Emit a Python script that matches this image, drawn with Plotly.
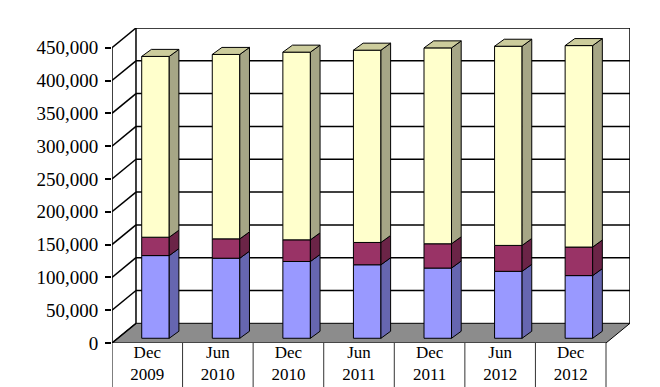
import plotly.graph_objects as go

# ---- data ----
categories = ["Dec<br>2009", "Jun<br>2010", "Dec<br>2010", "Jun<br>2011",
              "Dec<br>2011", "Jun<br>2012", "Dec<br>2012"]
series_blue = [126000, 122000, 117000, 112000, 107000, 102000, 95500]
series_maroon = [28000, 29500, 33000, 34000, 37000, 39500, 43500]
series_yellow = [275500, 281000, 286000, 293000, 298500, 303500, 307000]
y_ticks = list(range(0, 450001, 50000))

# ---- 3D styling constants (in axis units) ----
N = len(categories)
DEPTH_X = 0.34        # wall depth, category units
DEPTH_Y = 30000       # wall depth, value units
BAR_SHIFT_X = 0.116   # bar front plane offset
BAR_BASE = 7200
BAR_W = 0.39
BAR_DX = 0.137
BAR_DY = 10700
Y_MAX = 450000

front_cols = ["#9999FF", "#993366", "#FFFFCC"]
side_cols = ["#6666B0", "#6B2447", "#A6A686"]
top_col = "#CCCC9C"

fig = go.Figure()

series = [series_blue, series_maroon, series_yellow]
cum = [BAR_BASE] * N
bases = []
for s in series:
    bases.append(list(cum))
    cum = [c + v for c, v in zip(cum, s)]

xc = [i + 0.5 + BAR_SHIFT_X for i in range(N)]

# front faces
for s, b, col in zip(series, bases, front_cols):
    fig.add_trace(go.Bar(x=xc, y=s, base=b, width=BAR_W,
                         marker=dict(color=col, line=dict(color="black", width=1)),
                         hoverinfo="skip", showlegend=False))

# side faces
for s, b, col in zip(series, bases, side_cols):
    px, py = [], []
    for x, v, b0 in zip(xc, s, b):
        xr = x + BAR_W / 2
        px += [xr, xr + BAR_DX, xr + BAR_DX, xr, xr, None]
        py += [b0, b0 + BAR_DY, b0 + v + BAR_DY, b0 + v, b0, None]
    fig.add_trace(go.Scatter(x=px, y=py, mode="lines", fill="toself", fillcolor=col,
                             line=dict(color="black", width=1), hoverinfo="skip",
                             showlegend=False))

# top faces
px, py = [], []
for x, t in zip(xc, cum):
    xl, xr = x - BAR_W / 2, x + BAR_W / 2
    px += [xl, xr, xr + BAR_DX, xl + BAR_DX, xl, None]
    py += [t, t, t + BAR_DY, t + BAR_DY, t, None]
fig.add_trace(go.Scatter(x=px, y=py, mode="lines", fill="toself", fillcolor=top_col,
                         line=dict(color="black", width=1), hoverinfo="skip",
                         showlegend=False))

shapes = []
# floor
shapes.append(dict(type="path", xref="x", yref="y", layer="below",
                   path=f"M 0 0 L {N} 0 L {N + DEPTH_X} {DEPTH_Y} L {DEPTH_X} {DEPTH_Y} Z",
                   fillcolor="#8C8C8C", line=dict(color="black", width=1)))
# back wall gridlines + left wall diagonals
for v in y_ticks:
    if v > 0:
        shapes.append(dict(type="line", xref="x", yref="y", layer="below",
                           x0=DEPTH_X, x1=N + DEPTH_X, y0=v + DEPTH_Y, y1=v + DEPTH_Y,
                           line=dict(color="black", width=1.5)))
    shapes.append(dict(type="line", xref="x", yref="y", layer="below",
                       x0=0, x1=DEPTH_X, y0=v, y1=v + DEPTH_Y,
                       line=dict(color="black", width=1.5)))
# back wall vertical edges
for xe in (DEPTH_X, N + DEPTH_X):
    shapes.append(dict(type="line", xref="x", yref="y", layer="below",
                       x0=xe, x1=xe, y0=DEPTH_Y, y1=Y_MAX + DEPTH_Y,
                       line=dict(color="black", width=1.5)))
# front value axis
shapes.append(dict(type="line", xref="x", yref="y", layer="above",
                   x0=0, x1=0, y0=0, y1=Y_MAX, line=dict(color="black", width=1.5)))
# category table dividers
for i in range(N + 1):
    shapes.append(dict(type="line", xref="x", yref="paper", layer="above",
                       x0=i, x1=i, y0=0, y1=-0.2,
                       line=dict(color="black" if i == 0 else "#333333", width=1)))

SERIF = "Liberation Serif, Times New Roman, serif"

# note: the page body adds an 8px margin, so margins are offset by 8px
fig.update_layout(
    width=660, height=387,
    margin=dict(l=104, r=38, t=20, b=52),
    paper_bgcolor="white", plot_bgcolor="white",
    barmode="overlay",
    shapes=shapes,
    showlegend=False,
    font=dict(family=SERIF, color="black"),
    xaxis=dict(range=[0, N + DEPTH_X], tickvals=[i + 0.5 for i in range(N)],
               ticktext=categories, showgrid=False, zeroline=False, showline=False,
               ticks="", ticklabelstandoff=-3, tickfont=dict(size=17, family=SERIF),
               automargin=False, fixedrange=True),
    yaxis=dict(range=[0, Y_MAX + DEPTH_Y], tickvals=y_ticks, tickformat=",d",
               showgrid=False, zeroline=False, showline=False,
               ticks="outside", ticklen=6, tickcolor="black", tickwidth=1.5,
               ticklabelstandoff=3,
               tickfont=dict(size=19, family=SERIF),
               automargin=False, fixedrange=True),
)

fig.write_html("out.html")
